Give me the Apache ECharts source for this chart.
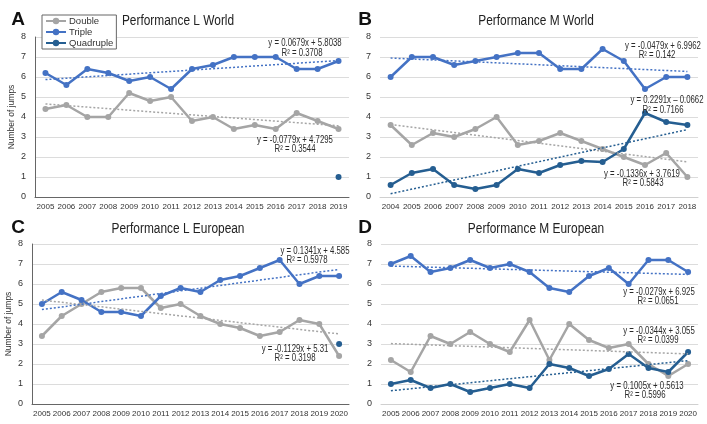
<!DOCTYPE html>
<html>
<head>
<meta charset="utf-8">
<script src="https://cdn.jsdelivr.net/npm/echarts@6/dist/echarts.min.js"></script>
<style>
  html, body { margin: 0; padding: 0; background: #fff; }
  #chart { width: 707px; height: 424px; }
</style>
</head>
<body>
<div id="chart"></div>
<script>
// years per panel
const yearsA = ["2005","2006","2007","2008","2009","2010","2011","2012","2013","2014","2015","2016","2017","2018","2019"];
const yearsB = ["2004","2005","2006","2007","2008","2009","2010","2011","2012","2013","2014","2015","2016","2017","2018"];
const yearsC = ["2005","2006","2007","2008","2009","2010","2011","2012","2013","2014","2015","2016","2017","2018","2019","2020"];
const yearsD = yearsC;

// A - Performance L World
const doubleA = [4.4, 4.6, 4.0, 4.0, 5.2, 4.8, 5.0, 3.8, 4.0, 3.4, 3.6, 3.4, 4.2, 3.8, 3.4];
const tripleA = [6.2, 5.6, 6.4, 6.2, 5.8, 6.0, 5.4, 6.4, 6.6, 7.0, 7.0, 7.0, 6.4, 6.4, 6.8];
const quadA   = [null, null, null, null, null, null, null, null, null, null, null, null, null, null, 1.0];

// B - Performance M World
const doubleB = [3.6, 2.6, 3.2, 3.0, 3.4, 4.0, 2.6, 2.8, 3.2, 2.8, 2.4, 2.0, 1.6, 2.2, 1.0];
const tripleB = [6.0, 7.0, 7.0, 6.6, 6.8, 7.0, 7.2, 7.2, 6.4, 6.4, 7.4, 6.8, 5.4, 6.0, 6.0];
const quadB   = [0.6, 1.2, 1.4, 0.6, 0.4, 0.6, 1.4, 1.2, 1.6, 1.8, 1.75, 2.4, 4.2, 3.75, 3.6];

// C - Performance L European
const doubleC = [3.4, 4.4, 5.0, 5.6, 5.8, 5.8, 4.8, 5.0, 4.4, 4.0, 3.8, 3.4, 3.6, 4.2, 4.0, 2.4];
const tripleC = [5.0, 5.6, 5.2, 4.6, 4.6, 4.4, 5.4, 5.8, 5.6, 6.2, 6.4, 6.8, 7.2, 6.0, 6.4, 6.4];
const quadC   = [null, null, null, null, null, null, null, null, null, null, null, null, null, null, null, 3.0];

// D - Performance M European
const doubleD = [2.2, 1.6, 3.4, 3.0, 3.6, 3.0, 2.6, 4.2, 2.2, 4.0, 3.2, 2.8, 3.0, 2.0, 1.4, 2.0];
const tripleD = [7.0, 7.4, 6.6, 6.8, 7.2, 6.8, 7.0, 6.6, 5.8, 5.6, 6.4, 6.8, 6.0, 7.2, 7.2, 6.6];
const quadD   = [1.0, 1.2, 0.8, 1.0, 0.6, 0.8, 1.0, 0.8, 2.0, 1.8, 1.4, 1.75, 2.5, 1.8, 1.6, 2.6];

// trend line coefficients [slope, intercept], x = 1..n as printed on the chart
const trendA = { double: [-0.0779, 4.7295], triple: [0.0679, 5.8038] };
const trendB = { double: [-0.1336, 3.7619], triple: [-0.0479, 6.9962], quad: [0.2291, -0.0662] };
const trendC = { double: [-0.1129, 5.31], triple: [0.1341, 4.585] };
const trendD = { double: [-0.0344, 3.055], triple: [-0.0279, 6.925], quad: [0.1005, 0.5613] };

const yTicks = [0, 1, 2, 3, 4, 5, 6, 7, 8];

const COL = { double: "#a5a5a5", triple: "#4472c4", quad: "#255e91" };
const REG = "'Liberation Sans', Arial, sans-serif";

const chart = echarts.init(document.getElementById("chart"));

const grids = [
  { left: 35, top: 37, width: 314, height: 160 },
  { left: 380, top: 37, width: 318, height: 160 },
  { left: 32, top: 244, width: 317, height: 160 },
  { left: 381, top: 244, width: 317, height: 160 }
].map(g => Object.assign({ outerBoundsMode: "none", containLabel: false }, g));

function xAxis(i, cats, showName, dark) {
  return {
    type: "category", gridIndex: i, data: cats, boundaryGap: true,
    axisLine: { show: true, lineStyle: { color: dark ? "#666" : "#d0d0d0" } },
    axisTick: { show: false },
    axisLabel: { interval: 0, fontSize: 8, color: "#333", margin: 6, fontFamily: REG },
    name: showName ? "Year" : "", nameLocation: "middle", nameGap: 20,
    nameTextStyle: { fontSize: 9, color: "#333", fontFamily: REG }
  };
}
function yAxis(i, showName, showLine) {
  return {
    type: "value", gridIndex: i, min: yTicks[0], max: yTicks[yTicks.length - 1], interval: 1,
    axisLine: { show: showLine, lineStyle: { color: "#666" } },
    axisTick: { show: false },
    splitLine: { lineStyle: { color: "#dcdcdc" } },
    axisLabel: { fontSize: 9, color: "#333", margin: 9, fontFamily: REG },
    name: showName ? "Number of jumps" : "", nameLocation: "middle", nameGap: 19,
    nameTextStyle: { fontSize: 8.5, color: "#333", fontFamily: REG }
  };
}

function trendLine(cats, coef, color) {
  const n = cats.length;
  return {
    silent: true, symbol: "none",
    label: { show: false },
    lineStyle: { type: [2, 2], width: 1.5, color: color },
    data: [[
      { coord: [cats[0], coef[0] * 1 + coef[1]] },
      { coord: [cats[n - 1], coef[0] * n + coef[1]] }
    ]]
  };
}

function lineSeries(name, i, data, color, cats, coef) {
  const s = {
    name: name, type: "line", xAxisIndex: i, yAxisIndex: i, data: data,
    symbol: "circle", symbolSize: 6, connectNulls: false,
    lineStyle: { width: 2.5, color: color },
    itemStyle: { color: color },
    z: 3
  };
  if (coef) s.markLine = trendLine(cats, coef, color);
  return s;
}

const panels = [
  { cats: yearsA, d: doubleA, t: tripleA, q: quadA, tr: trendA },
  { cats: yearsB, d: doubleB, t: tripleB, q: quadB, tr: trendB },
  { cats: yearsC, d: doubleC, t: tripleC, q: quadC, tr: trendC },
  { cats: yearsD, d: doubleD, t: tripleD, q: quadD, tr: trendD }
];

const series = [];
panels.forEach((p, i) => {
  series.push(lineSeries("Double", i, p.d, COL.double, p.cats, p.tr.double));
  series.push(lineSeries("Triple", i, p.t, COL.triple, p.cats, p.tr.triple));
  series.push(lineSeries("Quadruple", i, p.q, COL.quad, p.cats, p.tr.quad));
});

// text drawn a bit condensed, like the original figure
function txt(x, y, s, opt, sx) {
  return {
    type: "text", x: x, y: y, z: 10, scaleX: sx == null ? 0.78 : sx,
    style: Object.assign({
      text: s, fill: "#2a2a2a", font: "10px " + REG, align: "center", verticalAlign: "middle"
    }, opt || {})
  };
}

const LETTER = { font: "bold 19px " + REG, fill: "#111" };
const TITLE = { font: "14px " + REG, fill: "#222" };

const graphics = [
  txt(18, 20, "A", LETTER, 1), txt(365, 20, "B", LETTER, 1),
  txt(18, 228, "C", LETTER, 1), txt(365, 228, "D", LETTER, 1),
  txt(178, 21, "Performance L World", TITLE, 0.85),
  txt(536, 21, "Performance M World", TITLE, 0.85),
  txt(178, 229, "Performance L European", TITLE, 0.85),
  txt(536, 229, "Performance M European", TITLE, 0.85),
  // equations A
  txt(305, 43, "y = 0.0679x + 5.8038"), txt(302, 53, "R² = 0.3708"),
  txt(295, 140, "y = -0.0779x + 4.7295"), txt(295, 149, "R² = 0.3544"),
  // B
  txt(663, 46, "y = -0.0479x + 6.9962"), txt(657, 55, "R² = 0.142"),
  txt(667, 100, "y = 0.2291x \u2013 0.0662"), txt(663, 110, "R² = 0.7166"),
  txt(642, 174, "y = -0.1336x + 3.7619"), txt(643, 183, "R² = 0.5843"),
  // C
  txt(315, 251, "y = 0.1341x + 4.585"), txt(307, 260, "R² = 0.5978"),
  txt(295, 349, "y = -0.1129x + 5.31"), txt(295, 358, "R² = 0.3198"),
  // D
  txt(659, 292, "y = -0.0279x + 6.925"), txt(658, 301, "R² = 0.0651"),
  txt(659, 331, "y = -0.0344x + 3.055"), txt(658, 340, "R² = 0.0399"),
  txt(647, 386, "y = 0.1005x + 0.5613"), txt(645, 395, "R² = 0.5996")
];

const option = {
  animation: false,
  backgroundColor: "#fff",
  grid: grids,
  xAxis: [xAxis(0, yearsA, false, true), xAxis(1, yearsB, false, false), xAxis(2, yearsC, true, true), xAxis(3, yearsD, true, false)],
  yAxis: [yAxis(0, true, true), yAxis(1, false, false), yAxis(2, true, true), yAxis(3, false, false)],
  legend: {
    data: ["Double", "Triple", "Quadruple"],
    orient: "vertical", left: 42, top: 15,
    padding: [1, 3, 1, 3], itemGap: 1, itemWidth: 20, itemHeight: 8,
    borderColor: "#666", borderWidth: 1, backgroundColor: "#fff",
    textStyle: { fontSize: 9.5, color: "#333", fontFamily: REG, padding: [0, 0, 0, -2] }
  },
  graphic: graphics,
  series: series
};

chart.setOption(option);
</script>
</body>
</html>
